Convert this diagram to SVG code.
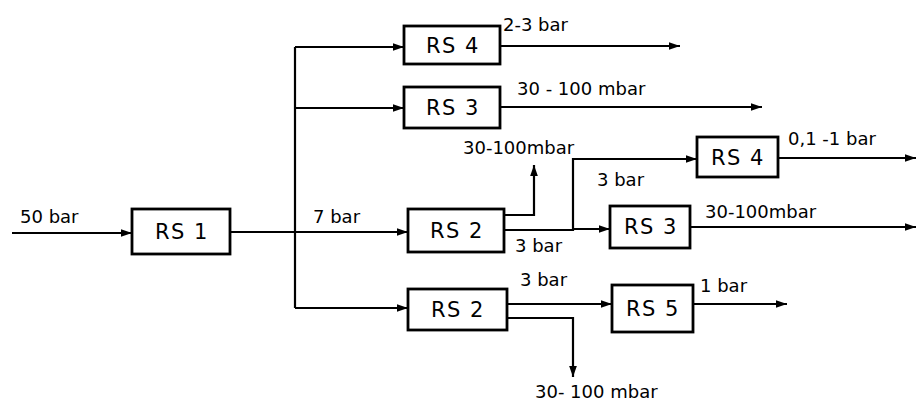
<svg xmlns="http://www.w3.org/2000/svg" width="917" height="403" viewBox="0 0 917 403">
<style>
.box{fill:#fff;stroke:#000;stroke-width:2.8}
.bl{font-family:"DejaVu Sans","Liberation Sans",sans-serif;font-size:21px;letter-spacing:1.5px;fill:#000;text-anchor:middle}
.lb{font-family:"DejaVu Sans","Liberation Sans",sans-serif;font-size:18px;fill:#000}
.ln{fill:none;stroke:#000;stroke-width:2.2}
</style>
<defs>
<marker id="ar" viewBox="0 0 10 10" refX="10" refY="5" markerWidth="5" markerHeight="5" orient="auto" markerUnits="strokeWidth">
<path d="M0,1.5 L10,5 L0,8.5 z" fill="#000"/>
</marker>
</defs>
<rect width="917" height="403" fill="#fff"/>
<g id="connectors">
<path class="ln" d="M12,233 H132" marker-end="url(#ar)"/>
<path class="ln" d="M230,232 H408" marker-end="url(#ar)"/>
<path class="ln" d="M295,47 V308"/>
<path class="ln" d="M295,47 H404" marker-end="url(#ar)"/>
<path class="ln" d="M295,108 H404" marker-end="url(#ar)"/>
<path class="ln" d="M295,308 H408" marker-end="url(#ar)"/>
<path class="ln" d="M500,46 H680" marker-end="url(#ar)"/>
<path class="ln" d="M500,107 H762" marker-end="url(#ar)"/>
<path class="ln" d="M504,230 H573 V159 H697" marker-end="url(#ar)"/>
<path class="ln" d="M573,229 H610" marker-end="url(#ar)"/>
<path class="ln" d="M504,215 H534 V165" marker-end="url(#ar)"/>
<path class="ln" d="M778,158 H916" marker-end="url(#ar)"/>
<path class="ln" d="M690,227 H916" marker-end="url(#ar)"/>
<path class="ln" d="M507,304 H612" marker-end="url(#ar)"/>
<path class="ln" d="M693,304 H787" marker-end="url(#ar)"/>
<path class="ln" d="M507,318 H573 V377" marker-end="url(#ar)"/>
</g>
<g id="rs1"><rect class="box" x="132" y="209" width="98" height="45"/><text class="bl" x="182" y="239">RS 1</text></g>
<g id="rs4a"><rect class="box" x="404" y="26" width="96" height="38"/><text class="bl" x="453" y="53">RS 4</text></g>
<g id="rs3a"><rect class="box" x="404" y="87" width="96" height="41"/><text class="bl" x="453" y="115">RS 3</text></g>
<g id="rs2a"><rect class="box" x="408" y="209" width="96" height="43"/><text class="bl" x="457" y="238">RS 2</text></g>
<g id="rs4b"><rect class="box" x="697" y="137" width="81" height="40"/><text class="bl" x="738" y="165">RS 4</text></g>
<g id="rs3b"><rect class="box" x="610" y="206" width="80" height="42"/><text class="bl" x="651" y="234">RS 3</text></g>
<g id="rs2b"><rect class="box" x="408" y="289" width="99" height="41"/><text class="bl" x="458" y="317">RS 2</text></g>
<g id="rs5"><rect class="box" x="612" y="285" width="81" height="47"/><text class="bl" x="653" y="316">RS 5</text></g>
<g id="labels">
<text class="lb" x="20" y="223">50 bar</text>
<text class="lb" x="313" y="223">7 bar</text>
<text class="lb" x="503" y="31">2-3 bar</text>
<text class="lb" x="517" y="95">30 - 100 mbar</text>
<text class="lb" x="463" y="154">30-100mbar</text>
<text class="lb" x="597" y="186">3 bar</text>
<text class="lb" x="515" y="252">3 bar</text>
<text class="lb" x="788" y="145">0,1 -1 bar</text>
<text class="lb" x="705" y="218">30-100mbar</text>
<text class="lb" x="520" y="286">3 bar</text>
<text class="lb" x="700" y="292">1 bar</text>
<text class="lb" x="535" y="398">30- 100 mbar</text>
</g>
</svg>
